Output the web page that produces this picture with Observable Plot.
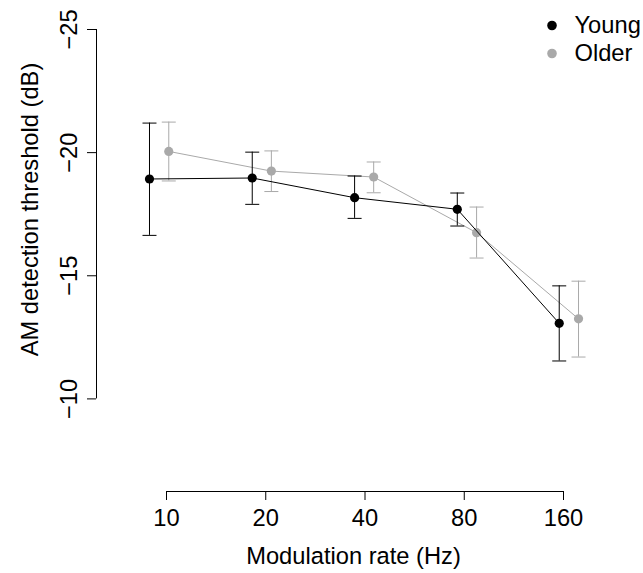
<!DOCTYPE html>
<html>
<head>
<meta charset="utf-8">
<script src="https://cdn.jsdelivr.net/npm/d3@7"></script>
<script src="https://cdn.jsdelivr.net/npm/@observablehq/plot@0.6"></script>
<style>
  html, body { margin: 0; padding: 0; background: #fff; }
  #chart { width: 643px; height: 573px; }
</style>
</head>
<body>
<div id="chart"></div>
<script>
// Modulation rates on the x axis (tick labels, Hz)
const rateTicks = [10, 20, 40, 80, 160];
const yTicks = [-25, -20, -15, -10];

// Plotted rates for each group (groups are nudged apart horizontally)
const youngRate = [8.88, 18.2, 37.2, 76.2, 155.3];
const olderRate = [10.16, 20.8, 42.5, 87.2, 177.7];

// AM detection thresholds (dB): mean and error-bar ends
const youngMean = [-18.93, -18.97, -18.17, -17.70, -13.07];
const youngLo   = [-21.20, -20.02, -19.05, -18.36, -14.59];
const youngHi   = [-16.64, -17.90, -17.33, -17.02, -11.54];

const olderMean = [-20.05, -19.25, -19.01, -16.75, -13.25];
const olderLo   = [-21.24, -20.07, -19.62, -17.79, -14.78];
const olderHi   = [-18.85, -18.42, -18.37, -15.72, -11.70];

const groups = ["Young", "Older"];
const colors = {Young: "#000000", Older: "#a9a9a9"};

function rows(name, rate, mean, lo, hi) {
  return rate.map((r, i) => ({group: name, rate: r, mean: mean[i], lo: lo[i], hi: hi[i]}));
}
const young = rows("Young", youngRate, youngMean, youngLo, youngHi);
const older = rows("Older", olderRate, olderMean, olderLo, olderHi);

// Layout
const W = 643, H = 573;
const FS = 23.7;
const marginLeft = 96, marginRight = 80, marginTop = 29, marginBottom = 82;
const xRange = [166, 563];                 // pixel span of 10 .. 160 Hz
const yBottom = -6.24;                      // value at the bottom of the frame (x-axis line)
const pxPerOctave = (xRange[1] - xRange[0]) / Math.log2(160 / 10);
const xAxisStart = 10 * 2 ** (-(xRange[0] - marginLeft) / pxPerOctave); // where the y axis line sits
const frameCenterX = (marginLeft + (W - marginRight)) / 2;
const frameCenterY = (marginTop + (H - marginBottom)) / 2;

// Horizontal cap for the error bars
const capSymbol = {
  draw(ctx, size) {
    const r = Math.sqrt(size / Math.PI);
    ctx.moveTo(-r, 0);
    ctx.lineTo(r, 0);
  }
};

const fmt = d => (d < 0 ? "\u2212" + Math.abs(d) : String(d));

function seriesMarks(data, color) {
  return [
    Plot.line(data, {x: "rate", y: "mean", stroke: color, strokeWidth: 1}),
    Plot.ruleX(data, {x: "rate", y1: "lo", y2: "hi", stroke: color, strokeWidth: 1}),
    Plot.dot(data, {x: "rate", y: "lo", symbol: capSymbol, r: 7, stroke: color, fill: "none", strokeWidth: 1}),
    Plot.dot(data, {x: "rate", y: "hi", symbol: capSymbol, r: 7, stroke: color, fill: "none", strokeWidth: 1}),
    Plot.dot(data, {x: "rate", y: "mean", r: 4.6, fill: color, stroke: "none"})
  ];
}

const legendDx = 455.5, legendTextDx = 478;
const legendRowY = [25, 53];

const chart = Plot.plot({
  width: W,
  height: H,
  marginLeft, marginRight, marginTop, marginBottom,
  style: {fontFamily: "'Liberation Sans', Arial, Helvetica, sans-serif", fontSize: FS + "px", background: "#fff", color: "#000"},
  x: {type: "log", domain: [10, 160], range: xRange, axis: null},
  y: {domain: [-25, yBottom], reverse: true, axis: null},
  marks: [
    // y axis
    Plot.ruleX([xAxisStart], {y1: -25, y2: -10, stroke: "#000", strokeWidth: 1}),
    Plot.axisY({ticks: yTicks, tickSize: 9, tickFormat: () => "", label: null, stroke: "#000"}),
    Plot.text(yTicks, {y: d => d, frameAnchor: "left", rotate: -90, dx: -27, text: fmt,
      textAnchor: "middle", lineAnchor: "middle", fontSize: FS, fill: "#000"}),
    Plot.text(["AM detection threshold (dB)"], {frameAnchor: "left", rotate: -90,
      dx: 30 - marginLeft, dy: 209 - frameCenterY, textAnchor: "middle", lineAnchor: "middle", fontSize: FS, fill: "#000"}),
    // x axis
    Plot.ruleY([yBottom], {x1: rateTicks[0], x2: rateTicks[rateTicks.length - 1], stroke: "#000", strokeWidth: 1}),
    Plot.axisX({ticks: rateTicks, tickFormat: d => String(d), tickSize: 9, tickPadding: 9, label: null, fontSize: FS, stroke: "#000", fill: "#000"}),
    Plot.text(["Modulation rate (Hz)"], {frameAnchor: "bottom", dx: 353 - frameCenterX, dy: 56,
      lineAnchor: "top", textAnchor: "middle", fontSize: FS, fill: "#000"}),
    // data
    ...seriesMarks(older, colors.Older),
    ...seriesMarks(young, colors.Young),
    // legend
    ...groups.map((g, i) => Plot.dot([g], {frameAnchor: "top-left", dx: legendDx, dy: legendRowY[i] - marginTop,
      r: 4.8, fill: colors[g], stroke: "none"})),
    ...groups.map((g, i) => Plot.text([g], {frameAnchor: "top-left", dx: legendTextDx, dy: legendRowY[i] - marginTop,
      text: d => d, textAnchor: "start", lineAnchor: "middle", fontSize: FS, fill: "#000"}))
  ]
});

document.getElementById("chart").appendChild(chart);
</script>
</body>
</html>
